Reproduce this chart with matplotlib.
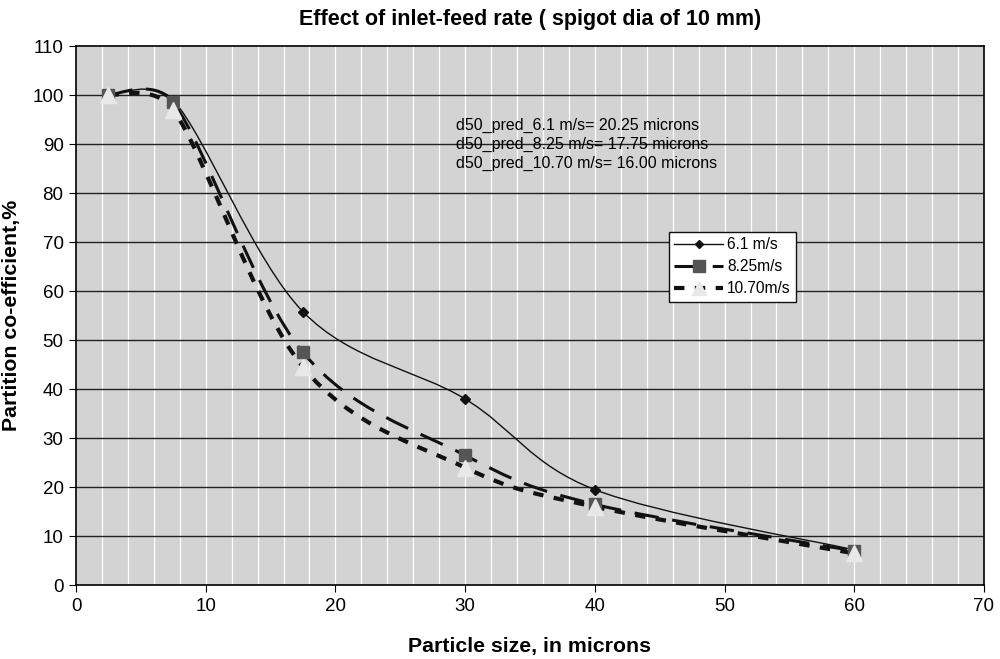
import numpy as np
import matplotlib
matplotlib.use("Agg")
import matplotlib.pyplot as plt
from matplotlib.path import Path
from matplotlib.patches import PathPatch
from matplotlib.lines import Line2D

plt.rcParams['font.family'] = ['Liberation Sans', 'DejaVu Sans']

x_vals = [2.5, 7.5, 17.5, 30, 40, 60]
s61 = [100, 99, 55.8, 38, 19.5, 7.2]
s825 = [100, 98.5, 47.5, 26.5, 16.5, 7.0]
s1070 = [100, 97, 44.5, 24, 16, 6.5]
labels = ["6.1 m/s", "8.25m/s", "10.70m/s"]
notes = ["d50_pred_6.1 m/s= 20.25 microns",
         "d50_pred_8.25 m/s= 17.75 microns",
         "d50_pred_10.70 m/s= 16.00 microns"]

def smooth_path(x, y, t=1/6.0):
    pts = np.column_stack([x, y]).astype(float)
    n = len(pts)
    verts = [pts[0]]
    codes = [Path.MOVETO]
    for i in range(n - 1):
        p0 = pts[i - 1] if i > 0 else pts[i]
        p1 = pts[i]
        p2 = pts[i + 1]
        p3 = pts[i + 2] if i + 2 < n else pts[i + 1]
        tt = t * 0.6 if i == 0 else t
        c1 = p1 + (p2 - p0) * tt
        c2 = p2 - (p3 - p1) * tt
        verts += [c1, c2, p2]
        codes += [Path.CURVE4] * 3
    return Path(verts, codes)

fig = plt.figure(figsize=(10, 6.59), dpi=100)
ax = fig.add_axes([0.076, 0.112, 0.908, 0.818])
ax.set_facecolor("#d3d3d3")
ax.set_xlim(0, 70)
ax.set_ylim(0, 110)
for xv in np.arange(2, 70, 2):
    ax.axvline(xv, color="white", lw=0.9, zorder=1)
for yv in np.arange(10, 110, 10):
    ax.axhline(yv, color="#222222", lw=1.0, zorder=1)

styles = [
    dict(data=s61, lw=1.0, ls="-", marker="D", ms=5, mfc="#111111", mec="#111111"),
    dict(data=s825, lw=2.2, ls=(0, (8, 4.5)), marker="s", ms=9, mfc="#555555", mec="#555555"),
    dict(data=s1070, lw=3.0, ls=(0, (2.5, 2.5)), marker="^", ms=11, mfc="#e8e8e8", mec="#e8e8e8"),
]
handles = []
for st, lab in zip(styles, labels):
    patch = PathPatch(smooth_path(x_vals, st["data"]), fill=False, edgecolor="#111111",
                      lw=st["lw"], linestyle=st["ls"], zorder=3)
    ax.add_patch(patch)
    ax.plot(x_vals, st["data"], ls="none", marker=st["marker"], ms=st["ms"],
            mfc=st["mfc"], mec=st["mec"], zorder=4)
    handles.append(Line2D([], [], color="#111111", lw=st["lw"], ls=st["ls"],
                          marker=st["marker"], ms=st["ms"] * 0.9, mfc=st["mfc"], mec=st["mec"]))

ax.set_xticks(np.arange(0, 71, 10))
ax.set_yticks(np.arange(0, 111, 10))
ax.tick_params(labelsize=13.5, length=5, direction="out", pad=4)
for sp in ax.spines.values():
    sp.set_linewidth(1.2)

ax.set_title("Effect of inlet-feed rate ( spigot dia of 10 mm)", fontsize=15.5,
             fontweight="bold", pad=15)
ax.set_xlabel("Particle size, in microns", fontsize=15.3, fontweight="bold", labelpad=16)
ax.set_ylabel("Partition co-efficient,%", fontsize=15.3, fontweight="bold", labelpad=8)

for i, t in enumerate(notes):
    ax.text(29.3, 93.9 - i * 3.9, t, fontsize=11.5, va="center", ha="left", zorder=5)

leg = fig.legend(handles=handles, labels=labels, loc="upper left",
                 bbox_to_anchor=(0.669, 0.648), fontsize=11.2, frameon=True,
                 fancybox=False, edgecolor="#111111", framealpha=1,
                 handlelength=3.1, borderpad=0.35, labelspacing=0.45, handletextpad=0.3,
                 borderaxespad=0)
leg.get_frame().set_linewidth(1.0)

fig.savefig("out.png", dpi=100)
